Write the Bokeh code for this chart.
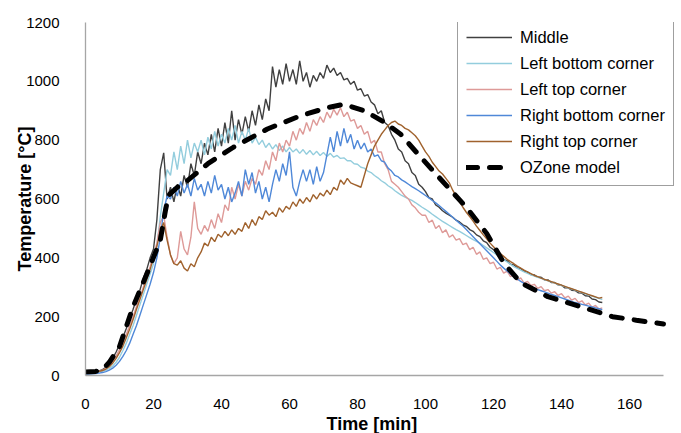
from bokeh.plotting import figure
from bokeh.models import Range1d, FixedTicker, Legend, LegendItem, Title
from bokeh.embed import file_html
from bokeh.resources import INLINE

# ---------------- data ----------------
time_min = list(range(0, 153))

middle = [
    10, 10, 12, 14, 16, 20, 28, 40, 58, 80,
    105, 130, 160, 195, 225, 260, 290, 330, 360, 400,
    430, 530, 700, 757, 600, 640, 590, 650, 610, 680,
    640, 720, 680, 760, 720, 790, 750, 820, 760, 840,
    780, 860, 790, 900, 800, 870, 820, 880, 830, 900,
    850, 920, 870, 940, 900, 1050, 980, 1040, 990, 1060,
    1000, 1040, 990, 1070, 1000, 1030, 980, 1020, 1000, 1030,
    1010, 1055, 1030, 1045, 1020, 1030, 1005, 1010, 990, 1000,
    970, 975, 950, 955, 930, 920, 890, 900, 860, 850,
    820, 800, 770, 760, 730, 720, 690, 680, 650, 640,
    625, 605, 600, 580, 572, 560, 552, 545, 538, 528,
    522, 512, 507, 496, 490, 478, 472, 458, 452, 436,
    428, 414, 408, 394, 390, 378, 376, 366, 364, 354,
    352, 343, 342, 334, 334, 325, 325, 316, 316, 308,
    307, 298, 298, 290, 289, 281, 280, 271, 270, 260,
    258, 250, 248,
]

left_bottom = [
    8, 8, 9, 10, 12, 14, 18, 24, 32, 45,
    62, 85, 110, 140, 170, 205, 240, 275, 310, 345,
    380, 440, 540, 620, 700, 680, 760, 700, 780, 720,
    800, 740, 790, 760, 800, 750, 810, 770, 830, 780,
    820, 790, 840, 800, 850, 790, 830, 800, 840, 790,
    810, 785, 800, 775, 790, 770, 785, 765, 780, 760,
    775, 760, 770, 755, 768, 752, 765, 750, 762, 748,
    758, 745, 755, 742, 748, 738, 740, 730, 730, 720,
    718, 708, 705, 695, 690, 680, 672, 662, 655, 645,
    638, 628, 620, 612, 606, 600, 595, 588, 580, 572,
    565, 557, 548, 540, 532, 524, 517, 510, 503, 496,
    490, 483, 476, 469, 462, 456, 450, 442, 434, 426,
    418, 410, 402, 394, 386, 378, 370, 364, 358, 352,
    347, 342, 338, 334, 330, 326, 322, 318, 314, 310,
    306, 302, 298, 294, 290, 286, 282, 278, 274, 270,
    266, 262, 258,
]

left_top = [
    8, 8, 10, 12, 14, 18, 24, 34, 48, 66,
    88, 112, 140, 170, 200, 235, 265, 300, 335, 370,
    410, 450, 520, 545, 470, 410, 380, 400, 490, 430,
    410, 470, 590, 500, 480, 510, 490, 530, 500, 550,
    520, 580, 560, 640, 600, 650, 610, 660, 630, 670,
    650, 700, 680, 730, 700, 760, 730, 790, 760, 800,
    780, 830, 800, 840, 820, 860, 830, 870, 850, 880,
    860, 895, 875, 905, 885, 910, 880, 895, 865, 870,
    840, 850, 820, 830, 790, 800, 760, 760, 720, 700,
    660, 650, 640, 625, 610, 600, 580, 570, 555, 545,
    545, 520, 528, 500, 510, 485, 495, 470, 478, 460,
    465, 445, 450, 428, 436, 412, 420, 395, 400, 380,
    385, 362, 368, 348, 355, 336, 342, 324, 332, 314,
    320, 306, 310, 296, 302, 288, 292, 280, 285, 272,
    278, 264, 270, 256, 262, 248, 254, 240, 246, 232,
    238, 226, 230,
]

right_bottom = [
    5, 5, 6, 7, 8, 10, 13, 18, 25, 35,
    48, 65, 85, 110, 140, 170, 205, 240, 275, 310,
    350, 400, 470, 560, 610, 600, 640, 610, 660, 620,
    650, 610, 670, 630, 650, 610, 660, 620, 680, 630,
    650, 600, 640, 590, 620, 660, 610, 700, 650, 690,
    620, 660, 600, 640, 590, 650, 700, 660, 720, 680,
    760, 640, 610, 660, 700, 660, 700, 650, 710, 660,
    690, 750, 810, 760, 830, 780, 840, 790, 820, 770,
    800, 770, 790, 760, 770, 745, 750, 730, 725, 705,
    695, 680, 675, 665, 658, 650, 642, 635, 628, 620,
    612, 604, 595, 587, 578, 568, 558, 548, 538, 528,
    518, 508, 496, 484, 472, 460, 448, 436, 424, 412,
    400, 388, 376, 365, 355, 345, 336, 328, 320, 313,
    307, 301, 296, 292, 288, 284, 280, 276, 272, 268,
    264, 260, 256, 252, 248, 245, 242, 239, 236, 233,
    230, 227, 224,
]

right_top = [
    10, 10, 11, 12, 14, 17, 22, 30, 42, 58,
    78, 100, 128, 158, 190, 225, 258, 292, 325, 360,
    400, 440, 490, 520, 460, 410, 380, 375, 390, 365,
    355, 380, 370, 400, 420, 450, 440, 470, 455, 480,
    470, 490, 475, 495, 480, 500, 490, 520, 500, 530,
    510, 540, 530, 560, 545, 555, 540, 570, 555, 575,
    565, 590, 575, 600, 585, 605, 590, 615, 600, 620,
    610, 630, 615, 640, 630, 665, 650, 670, 655, 650,
    645, 640, 680, 720, 750, 780, 800, 820, 835, 850,
    860, 865, 855, 850, 840, 835, 825, 815, 800, 780,
    760, 745, 725, 710, 695, 685, 670, 655, 630, 610,
    590, 572, 555, 540, 525, 508, 493, 478, 465, 450,
    438, 426, 415, 405, 395, 387, 380, 372, 365, 358,
    352, 346, 340, 336, 331, 327, 323, 319, 315, 311,
    307, 303, 299, 295, 291, 287, 283, 279, 275, 271,
    267, 263, 265,
]

ozone_time = [0, 3, 5, 7, 10, 14, 18.5, 22, 23.5, 24.4, 27, 30, 36, 43.5, 53.5,
              63, 71, 76, 82, 88, 92.6, 98, 104, 112, 118, 123, 128, 136, 145.6,
              155, 162, 170]
ozone_temp = [12, 14, 20, 45, 98, 234, 358, 460, 560, 612, 640, 663, 720, 776, 838,
              882, 910, 922, 900, 860, 821, 750, 673, 572, 483, 383, 315, 268, 234,
              200, 188, 175]

x_ticks = [0, 20, 40, 60, 80, 100, 120, 140, 160]
y_ticks = [0, 200, 400, 600, 800, 1000, 1200]

series_names = ["Middle", "Left bottom corner", "Left top corner",
                "Right bottom corner", "Right top corner"]
series_values = [middle, left_bottom, left_top, right_bottom, right_top]
series_colors = ["#404040", "#93CDDD", "#DE9A98", "#4F88D8", "#A0622D"]

# ---------------- figure ----------------
FONT = "Liberation Sans"

p = figure(width=681, height=433, output_backend="svg", toolbar_location=None,
           x_range=Range1d(0, 175), y_range=Range1d(0, 1200),
           min_border_left=85, min_border_right=1,
           min_border_top=22, min_border_bottom=57)
p.xgrid.visible = False
p.ygrid.visible = False
p.outline_line_color = None
p.background_fill_color = "white"
p.border_fill_color = "white"

for ax, ticks in ((p.xaxis, x_ticks), (p.yaxis, y_ticks)):
    ax.ticker = FixedTicker(ticks=ticks)
    ax.major_tick_line_color = None
    ax.minor_tick_line_color = None
    ax.axis_line_color = "#A6A6A6"
    ax.axis_line_width = 1.3
    ax.major_label_text_font = FONT
    ax.major_label_text_font_size = "15px"
    ax.major_label_text_color = "#000000"
    ax.axis_label_text_font = FONT
    ax.axis_label_text_font_size = "18px"
    ax.axis_label_text_font_style = "bold"
    ax.axis_label_text_color = "#000000"

p.xaxis.bounds = (0, 170)
p.xaxis.major_label_standoff = 17
p.yaxis.axis_label = "Temperature [°C]"
p.yaxis.major_label_standoff = 20
p.yaxis.axis_label_standoff = -12

# x-axis title centred under the 0-170 axis line
x_title = Title(text="Time [min]", align="left", offset=241, standoff=0,
                text_font=FONT, text_font_size="18px", text_font_style="bold",
                text_color="#000000")
p.add_layout(x_title, "below")

items = []
for name, vals, col in zip(series_names, series_values, series_colors):
    r = p.line(time_min, vals, line_color=col, line_width=1.4)
    items.append(LegendItem(label=name, renderers=[r]))

oz = p.line(ozone_time, ozone_temp, line_color="black", line_width=5,
            line_dash="11 12", line_cap="round")
items.append(LegendItem(label="OZone model", renderers=[oz]))

legend = Legend(items=items, location=(372, 189))
legend.border_line_color = "#404040"
legend.border_line_width = 1
legend.background_fill_color = "white"
legend.background_fill_alpha = 1
legend.label_text_font = FONT
legend.label_text_font_size = "16.5px"
legend.label_text_color = "#000000"
legend.glyph_width = 46
legend.glyph_height = 20
legend.label_height = 20
legend.spacing = 6
legend.padding = 8
legend.margin = 0
legend.label_standoff = 8
p.add_layout(legend)

open("out.html", "w").write(file_html(p, INLINE))
